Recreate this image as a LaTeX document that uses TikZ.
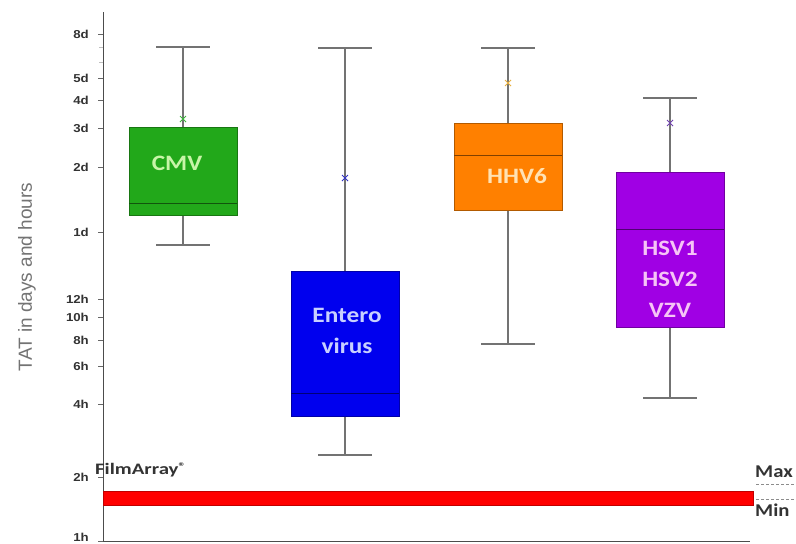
\documentclass[tikz,border=0pt]{standalone}
\usepackage{fontspec}
\usepackage{graphicx}
\setmainfont{Carlito}
\newfontfamily\axisfont{Liberation Sans}
\usetikzlibrary{positioning}

\definecolor{cmvgreen}{RGB}{34,168,26}
\definecolor{entblue}{RGB}{0,0,238}
\definecolor{hhvorange}{RGB}{255,128,0}
\definecolor{hsvpurple}{RGB}{160,0,228}
\definecolor{cmvtext}{RGB}{200,245,168}
\definecolor{enttext}{RGB}{200,208,255}
\definecolor{hhvtext}{RGB}{255,226,180}
\definecolor{hsvtext}{RGB}{246,196,246}
\definecolor{meancmv}{RGB}{60,180,60}
\definecolor{meanent}{RGB}{50,50,200}
\definecolor{meanhhv}{RGB}{232,176,64}
\definecolor{meanhsv}{RGB}{112,64,176}

\newcommand\stretchx[1]{\scalebox{1.15}[1]{#1}}

\begin{document}
\begin{tikzpicture}[
x=1pt,y=-1pt,
whisker/.style={draw=black!55,line width=1.3pt},
boxlabel/.style={font=\bfseries\fontsize{22}{31}\selectfont,align=center},
ticklabel/.style={font=\axisfont\bfseries\fontsize{11.5}{13}\selectfont,text=black!80,anchor=east,inner sep=0pt},
sidelabel/.style={anchor=west,inner sep=0pt,text=black!80}]

\useasboundingbox (0,0) rectangle (796,544);

% axes
\draw[black!70,line width=1pt] (103,12) -- (103,541) -- (750,541);

% ticks, days and hours on a log scale
\foreach \y/\lab in {34/8d,78/5d,100/4d,128/3d,167/2d,232/1d,299/12h,317/10h,340/8h,366/6h,404/4h,477/2h}{
  \draw[black!60] (98,\y) -- (103,\y);
  \node[ticklabel] (tick\lab) at (89,\y) {\stretchx{\lab}};
}
\draw[black!60] (98,541) -- (103,541);
\node[ticklabel] (tick1h) at (89,537) {\stretchx{1h}};
\foreach \y in {47,62}
  \draw[black!25] (99,\y) -- (103,\y);

\node[rotate=90,font=\axisfont\fontsize{19}{23}\selectfont,text=black!55] (title) at (27,277) {TAT in days and hours};

% boxes: centre, lower whisker, q1, median, q3, upper whisker, mean
\foreach \name/\cx/\lo/\qa/\md/\qb/\hi/\mn/\col in {
  cmv/183/245/215/203/127/47/119/cmvgreen,
  ent/345/455/416/393/271/48/178/entblue,
  hhv/508/344/210/155/123/48/83/hhvorange,
  hsv/670/398/327/229/172/98/123/hsvpurple}{
  \draw[whisker] (\cx,\lo) -- (\cx,\hi);
  \draw[whisker] (\cx-27,\lo) -- (\cx+27,\lo);
  \draw[whisker] (\cx-27,\hi) -- (\cx+27,\hi);
  \draw[fill=\col,draw=\col!70!black,line width=1pt] (\cx-54,\qa) rectangle (\cx+54,\qb);
  \draw[draw=\col!50!black,line width=1pt] (\cx-54,\md) -- (\cx+54,\md);
  \draw[color=mean\name,line width=1pt] (\cx-3,\mn-3) -- (\cx+3,\mn+3) (\cx-3,\mn+3) -- (\cx+3,\mn-3);
}

\node[boxlabel,text=cmvtext] (cmvlabel) at (177,163) {\stretchx{CMV}};
\node[boxlabel,text=enttext] (entlabel) at (347,331) {\stretchx{Entero}\\\stretchx{virus}};
\node[boxlabel,text=hhvtext] (hhvlabel) at (517,176) {\stretchx{HHV6}};
\node[boxlabel,text=hsvtext] (hsvlabel) at (670,279) {\stretchx{HSV1}\\\stretchx{HSV2}\\\stretchx{VZV}};

% FilmArray range
\draw[fill=red,draw=red!75!black] (103,491) rectangle (753,505);
\node[sidelabel,font=\bfseries\fontsize{16}{18}\selectfont] (filmarray) at (95,470) {\scalebox{1.3}[1]{FilmArray\raisebox{0.5ex}{\fontsize{11}{12}\selectfont\textregistered}}};
\node[sidelabel,font=\bfseries\fontsize{18}{20}\selectfont] (maxlabel) at (755,472) {\stretchx{Max}};
\node[sidelabel,font=\bfseries\fontsize{18}{20}\selectfont] (minlabel) at (755,510) {\stretchx{Min}};
\draw[black!45,dash pattern=on 3pt off 2pt] (756,484) -- (796,484);
\draw[black!45,dash pattern=on 3pt off 2pt] (756,499) -- (796,499);
\end{tikzpicture}
\end{document}
